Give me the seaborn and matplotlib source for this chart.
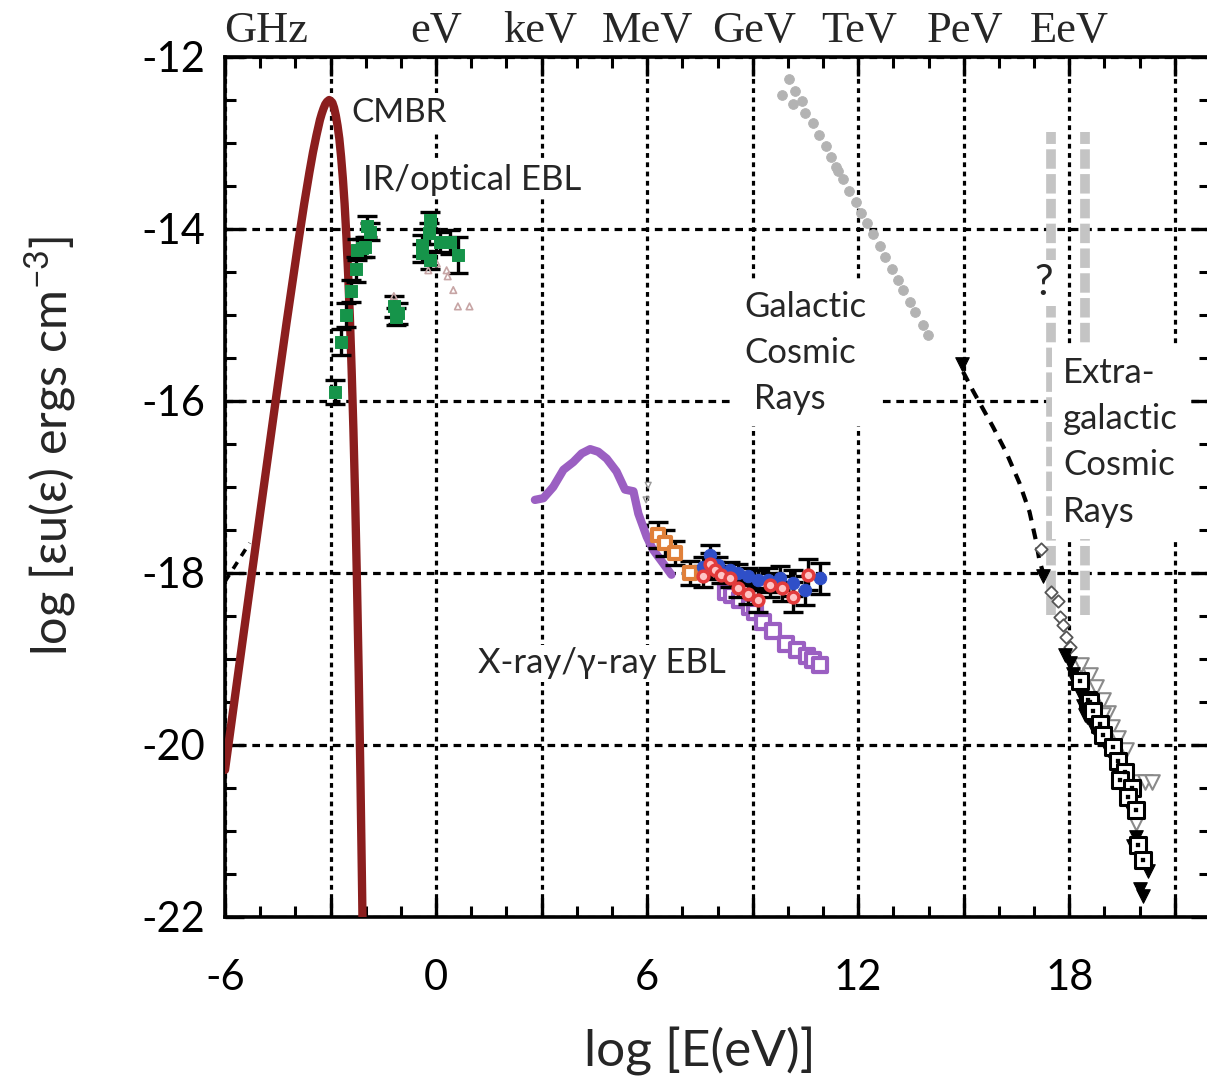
import matplotlib
matplotlib.use("Agg")
import matplotlib.pyplot as plt
import matplotlib.transforms as mtransforms
from matplotlib.ticker import MultipleLocator, FuncFormatter
import numpy as np
import pandas as pd
import seaborn as sns

# ---------------- data ----------------
# CMB blackbody
cmb_x = [-6.0, -5.5, -5.0, -4.5, -4.25, -4.0, -3.9, -3.75, -3.6, -3.5, -3.4, -3.3, -3.25,
         -3.2, -3.15, -3.1, -3.04, -3.0, -2.95, -2.9, -2.85, -2.8, -2.75, -2.7, -2.65,
         -2.6, -2.55, -2.5, -2.45, -2.4, -2.35, -2.3, -2.25, -2.2, -2.15, -2.1, -2.07]
cmb_y = [-20.29, -18.79, -17.30, -15.82, -15.09, -14.39, -14.11, -13.71, -13.34, -13.11,
         -12.91, -12.73, -12.66, -12.60, -12.55, -12.52, -12.50, -12.51, -12.53, -12.59,
         -12.68, -12.80, -12.95, -13.16, -13.41, -13.71, -14.08, -14.52, -15.03, -15.64,
         -16.33, -17.14, -18.08, -19.15, -20.38, -21.77, -22.71]

# short dashed segment at far left
radio_x = [-6.0, -5.3]
radio_y = [-18.1, -17.65]

# IR / optical EBL measurements
ir_x = [-2.87, -2.71, -2.57, -2.42, -2.29, -2.24, -2.10, -2.02, -1.97, -1.88,
        -1.21, -1.07, -1.15, -0.17, -0.19, -0.41, -0.41, -0.17, 0.11, 0.40, 0.63]
ir_y = [-15.90, -15.31, -15.00, -14.72, -14.47, -14.24, -14.22, -14.21, -13.97, -14.03,
        -14.90, -14.98, -15.02, -13.90, -14.05, -14.19, -14.28, -14.36, -14.15, -14.15, -14.30]
ir_err = [0.14, 0.15, 0.14, 0.13, 0.15, 0.12, 0.10, 0.12, 0.12, 0.10,
          0.12, 0.12, 0.10, 0.10, 0.12, 0.12, 0.10, 0.10, 0.12, 0.14, 0.21]
ir_lim_x = [-0.22, 0.02, 0.30, 0.33, 0.49, 0.62, 0.95, -1.20]
ir_lim_y = [-14.48, -14.40, -14.48, -14.55, -14.71, -14.90, -14.90, -14.78]

# X-ray / gamma-ray EBL
cxb_x = [2.81, 3.05, 3.33, 3.62, 3.90, 4.14, 4.38, 4.61, 4.85, 5.13, 5.37, 5.61, 5.75,
         5.99, 6.17, 6.46, 6.69]
cxb_y = [-17.15, -17.13, -17.00, -16.80, -16.71, -16.61, -16.56, -16.59, -16.67, -16.82,
         -17.03, -17.05, -17.31, -17.58, -17.73, -17.89, -18.02]
egb_sq_x = [8.25, 8.40, 8.64, 8.92, 9.06, 9.30, 9.59, 9.96, 10.25, 10.53, 10.72, 10.91]
egb_sq_y = [-18.22, -18.26, -18.31, -18.39, -18.45, -18.57, -18.68, -18.82, -18.90, -18.97,
            -19.01, -19.07]
comptel_x = [6.31, 6.50, 6.78, 7.21]
comptel_y = [-17.56, -17.65, -17.77, -18.00]
comptel_err = [0.15, 0.15, 0.14, 0.14]
fermi_b_x = [7.59, 7.78, 8.01, 8.35, 8.58, 8.87, 9.15, 9.43, 9.77, 10.15, 10.48, 10.90]
fermi_b_y = [-17.93, -17.79, -17.91, -17.97, -18.00, -18.04, -18.08, -18.08, -18.06,
             -18.12, -18.20, -18.06]
fermi_r_x = [7.59, 7.78, 7.92, 8.11, 8.35, 8.58, 8.87, 9.15, 9.48, 9.82, 10.15, 10.57]
fermi_r_y = [-18.04, -17.89, -17.97, -18.02, -18.06, -18.18, -18.24, -18.31, -18.14,
             -18.18, -18.28, -18.02]
fermi_err = [0.12, 0.12, 0.10, 0.10, 0.10, 0.10, 0.12, 0.14, 0.14, 0.15, 0.17, 0.18]
egret_lim_x = [6.03, 5.97]
egret_lim_y = [-16.98, -17.15]

# Galactic cosmic rays
gcr_x = [10.04, 9.82, 10.20, 10.15, 10.39, 10.48, 10.72, 10.89, 11.08, 11.22, 11.38, 11.43,
         11.57, 11.74, 11.93, 12.09, 12.25, 12.42, 12.63, 12.76, 12.95, 13.12, 13.28, 13.47,
         13.61, 13.83, 13.99]
gcr_y = [-12.25, -12.44, -12.40, -12.55, -12.51, -12.65, -12.77, -12.91, -13.04, -13.16,
         -13.28, -13.33, -13.42, -13.56, -13.69, -13.81, -13.93, -14.06, -14.20, -14.32,
         -14.47, -14.59, -14.71, -14.85, -14.96, -15.12, -15.23]

# knee-to-ankle dashed fit
knee_x = [14.98, 15.26, 15.83, 16.21, 16.58, 16.87, 17.05, 17.15, 17.28]
knee_y = [-15.66, -15.88, -16.30, -16.60, -16.95, -17.29, -17.62, -17.85, -18.03]

# Ultra-high-energy cosmic rays
uh_dia_x = [17.21, 17.49, 17.68, 17.73, 17.82, 17.92, 18.01]
uh_dia_y = [-17.72, -18.22, -18.33, -18.51, -18.60, -18.74, -18.86]
uh_tri_x = [14.95, 17.26, 17.87, 18.01, 18.11, 18.20, 18.30, 18.39, 18.44, 18.49, 18.68, 18.87,
            19.10, 19.29, 19.48, 19.62, 19.77, 19.91, 19.81, 20.24, 20.00, 20.10]
uh_tri_y = [-15.57, -18.03, -18.95, -19.05, -19.17, -19.28, -19.40, -19.55, -19.65, -19.67,
            -19.79, -19.90, -20.06, -20.19, -20.37, -20.62, -20.78, -21.07, -21.18, -21.47,
            -21.67, -21.76]
uh_otri_x = [18.34, 18.58, 18.77, 18.96, 19.10, 18.96, 19.20, 19.39, 19.62, 19.91, 20.15,
             20.34, 19.91]
uh_otri_y = [-19.07, -19.19, -19.32, -19.48, -19.63, -19.65, -19.79, -19.92, -20.06, -20.43,
             -20.43, -20.43, -20.91]
uh_sq_x = [18.30, 18.53, 18.58, 18.68, 18.87, 18.96, 19.24, 19.39, 19.58, 19.43, 19.77, 19.67,
           19.89, 19.95, 20.10]
uh_sq_y = [-19.26, -19.48, -19.50, -19.61, -19.75, -19.88, -20.02, -20.19, -20.31, -20.41,
           -20.50, -20.60, -20.76, -21.16, -21.34]

# transition region markers
trans_x = [17.49, 18.46]
trans_y0 = -18.49
trans_y1 = -12.87

top_labels = ["GHz", "eV", "keV", "MeV", "GeV", "TeV", "PeV", "EeV"]
top_pos = [-4.82, 0.0, 2.97, 6.0, 9.05, 12.04, 15.03, 18.0]

# ---------------- style ----------------
sns.set_style("white")
plt.rcParams["font.family"] = ["Lato", "DejaVu Sans"]
plt.rcParams["axes.unicode_minus"] = False
plt.rcParams["mathtext.fontset"] = "custom"
plt.rcParams["mathtext.rm"] = "Lato"

fig = plt.figure(figsize=(12.07, 10.84), dpi=100)
# axes runs from x=-6 to x=22; its right spine falls just past the image edge
ax = fig.add_axes([225 / 1207, 1 - 917 / 1084, (1210 - 225) / 1207, (917 - 57) / 1084])

CMB_C = "#8b1e1e"
GREEN = "#16944a"
PURPLE = "#9b5fc2"
ORANGE = "#e0803a"
BLUE = "#2f4fc8"
RED = "#e23b3b"
GRAY = "#b3b3b3"

# CMB
sns.lineplot(x=cmb_x, y=cmb_y, sort=False, estimator=None, color=CMB_C, lw=6, ax=ax, zorder=5)
sns.lineplot(x=radio_x, y=radio_y, sort=False, estimator=None, color="black", lw=2.6,
             ax=ax, zorder=5, linestyle=(0, (2.2, 2.0)))

# IR / optical
ax.errorbar(ir_x, ir_y, yerr=ir_err, fmt="none", ecolor="black", elinewidth=2.4,
            capsize=7, capthick=2.4, zorder=6)
sns.scatterplot(x=ir_x, y=ir_y, marker="s", s=75, color=GREEN, edgecolor=GREEN, ax=ax, zorder=7)
sns.scatterplot(x=ir_lim_x, y=ir_lim_y, marker="^", s=22, facecolor="none",
                edgecolor="#c7a5a5", linewidth=1.2, ax=ax, zorder=6)

# X-ray / gamma
sns.lineplot(x=cxb_x, y=cxb_y, sort=False, estimator=None, color=PURPLE, lw=6, ax=ax, zorder=5)
ax.errorbar(egb_sq_x, egb_sq_y, yerr=0.08, fmt="none", ecolor=PURPLE, elinewidth=2.2,
            capsize=5, capthick=2.2, zorder=5)
sns.scatterplot(x=egb_sq_x, y=egb_sq_y, marker="s", s=110, facecolor="white",
                edgecolor=PURPLE, linewidth=3, ax=ax, zorder=5)
ax.errorbar(comptel_x, comptel_y, yerr=comptel_err, fmt="none", ecolor="black", elinewidth=2.4,
            capsize=7, capthick=2.4, zorder=6)
sns.scatterplot(x=comptel_x, y=comptel_y, marker="s", s=70, facecolor="white",
                edgecolor=ORANGE, linewidth=3, ax=ax, zorder=7)
ax.errorbar(fermi_b_x, fermi_b_y, yerr=fermi_err, fmt="none", ecolor="black", elinewidth=2.4,
            capsize=7, capthick=2.4, zorder=6)
ax.errorbar(fermi_r_x, fermi_r_y, yerr=fermi_err, fmt="none", ecolor="black", elinewidth=2.4,
            capsize=7, capthick=2.4, zorder=6)
sns.scatterplot(x=fermi_b_x, y=fermi_b_y, marker="o", s=80, color=BLUE, edgecolor=BLUE,
                ax=ax, zorder=7)
sns.scatterplot(x=fermi_r_x, y=fermi_r_y, marker="o", s=60, facecolor="#ffc4c4",
                edgecolor=RED, linewidth=2.5, ax=ax, zorder=8)
sns.scatterplot(x=egret_lim_x, y=egret_lim_y, marker="v", s=18, facecolor="none",
                edgecolor="#999999", linewidth=1, ax=ax, zorder=6)

# Galactic cosmic rays
sns.scatterplot(x=gcr_x, y=gcr_y, marker="o", s=50, color=GRAY, edgecolor=GRAY, ax=ax, zorder=5)

# Transition markers (thick grey dashed verticals)
for tx in trans_x:
    ax.plot([tx, tx], [trans_y0, trans_y1], color="#c4c4c4", lw=7,
            linestyle=(0, (2.0, 0.55)), zorder=2.5, solid_capstyle="butt")

# knee-to-ankle dashed line
sns.lineplot(x=knee_x, y=knee_y, sort=False, estimator=None, color="black", lw=3,
             ax=ax, zorder=5, linestyle=(0, (2.6, 2.0)))

# UHECR
sns.scatterplot(x=uh_dia_x, y=uh_dia_y, marker="D", s=40, facecolor="white",
                edgecolor="#555555", linewidth=1.3, ax=ax, zorder=6)
sns.scatterplot(x=uh_otri_x, y=uh_otri_y, marker="v", s=110, facecolor="white",
                edgecolor="#8a8a8a", linewidth=1.5, ax=ax, zorder=6)
sns.scatterplot(x=uh_tri_x, y=uh_tri_y, marker="v", s=95, color="black", edgecolor="black",
                ax=ax, zorder=7)
sns.scatterplot(x=uh_sq_x, y=uh_sq_y, marker="s", s=120, facecolor="white",
                edgecolor="black", linewidth=2.2, ax=ax, zorder=8)
sns.scatterplot(x=uh_sq_x, y=uh_sq_y, marker="s", s=6, color="black", edgecolor="black",
                ax=ax, zorder=9)

# ---------------- axes ----------------
ax.set_xlim(-6, 22)
ax.set_ylim(-22, -12)
ax.xaxis.set_major_locator(MultipleLocator(3))
ax.xaxis.set_minor_locator(MultipleLocator(1))
ax.yaxis.set_major_locator(MultipleLocator(2))
ax.yaxis.set_minor_locator(MultipleLocator(0.5))
ax.xaxis.set_major_formatter(FuncFormatter(lambda v, p: f"{int(round(v))}" if round(v) % 6 == 0 else ""))
ax.yaxis.set_major_formatter(FuncFormatter(lambda v, p: f"{int(round(v))}"))
ax.tick_params(which="both", direction="in", top=True, right=True, bottom=True, left=True,
               labelsize=30, colors="black")
ax.tick_params(axis="x", which="major", pad=30)
ax.tick_params(axis="y", which="major", pad=14)
ax.tick_params(which="major", length=14, width=2.4)
ax.tick_params(which="minor", length=8, width=2.2)
for s in ax.spines.values():
    s.set_linewidth(2.6)
    s.set_color("black")
    s.set_visible(True)

ax.set_axisbelow(True)
ax.xaxis.grid(True, color="black", lw=2.3, linestyle=(0, (1.5, 1.4)))
ax.yaxis.grid(True, color="black", lw=2.3, linestyle=(0, (2.4, 1.8)))

ax.set_xlabel("log [E(eV)]", fontsize=37)
ax.xaxis.set_label_coords((700 - 225) / (1210 - 225), -0.128)
ax.set_ylabel(r"log [εu(ε) ergs cm$^{-3}$]", fontsize=35)
ax.yaxis.set_label_coords(-0.148, 0.548)

# top energy unit labels
trans = mtransforms.blended_transform_factory(ax.transData, ax.transAxes)
for lab, pos in zip(top_labels, top_pos):
    ax.text(pos, 1.017, lab, transform=trans, ha="center", va="baseline",
            fontsize=32, family="Liberation Serif", clip_on=False)

# annotations
box = dict(facecolor="white", edgecolor="none", pad=2)
ax.text(-2.41, -12.65, "CMBR", fontsize=24, ha="left", va="center", bbox=box, zorder=4)
ax.text(-2.09, -13.43, "IR/optical EBL", fontsize=25, ha="left", va="center", bbox=box, zorder=4)
ax.text(1.18, -19.05, "X-ray/γ-ray EBL", fontsize=25, ha="left", va="center", bbox=box, zorder=4)
ax.text(8.77, -15.44, "Galactic\nCosmic\n Rays", fontsize=25, ha="left", va="center",
        linespacing=1.55, bbox=dict(facecolor="white", edgecolor="none", pad=8), zorder=4)
ax.text(17.82, -16.48, "Extra-\ngalactic\nCosmic\nRays", fontsize=25, ha="left", va="center",
        linespacing=1.55, bbox=dict(facecolor="white", edgecolor="none", pad=8), zorder=4)
ax.text(17.27, -14.63, "?", fontsize=30, ha="center", va="center",
        bbox=dict(facecolor="white", edgecolor="none", pad=3), zorder=4)

fig.savefig("out.png", dpi=100)
